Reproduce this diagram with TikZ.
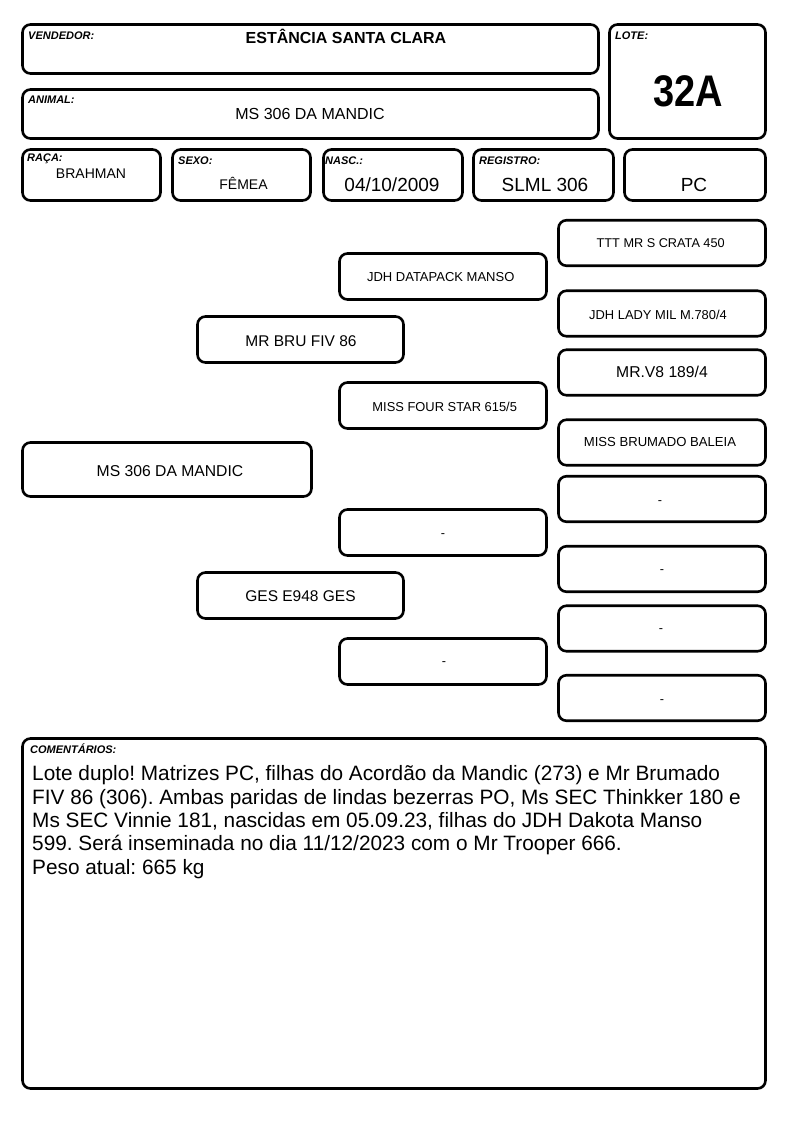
\documentclass[tikz,border=0pt]{standalone}
\usepackage{fontspec}
\setmainfont{Liberation Sans}
\frenchspacing
\newcommand\myfs[1]{\fontsize{#1bp}{#1bp}\selectfont}
\begin{document}
\begin{tikzpicture}[x=1bp,y=-1bp,
  box/.style={draw, line width=2.6bp, rounded corners=8bp, inner sep=0pt, outer sep=0pt},
  lbl/.style={font=\myfs{11}\bfseries\itshape, anchor=base west, inner sep=0pt},
  val/.style={anchor=base, inner sep=0pt},
  cline/.style={anchor=base west, inner sep=0pt, font=\myfs{20.8}},
  gfour/.style={box, minimum width=207bp, minimum height=45.5bp},
  gthree/.style={box, minimum width=207bp, minimum height=46bp},
  gtwo/.style={box, minimum width=206bp, minimum height=46bp},
  top/.style={box, minimum width=138bp, minimum height=51bp}]
\useasboundingbox (0,0) rectangle (794,1123);
% header boxes
\node[box, minimum width=576bp, minimum height=49bp] (vend) at (310.5,49) {};
\node[box, minimum width=576bp, minimum height=49bp] (anim) at (310.5,114) {};
\node[box, minimum width=156bp, minimum height=114bp] (lote) at (687.5,81.5) {};
\node[top] (raca) at (91.5,175) {};
\node[top] (sexo) at (241.5,175) {};
\node[top, minimum width=139bp] (nasc) at (393,175) {};
\node[top, minimum width=140bp] (regi) at (543.5,175) {};
\node[top, minimum width=141bp] (pc) at (695,175) {};
% header labels
\node[lbl] (lvend) at (28,39) {VENDEDOR:};
\node[lbl] (lanim) at (28,103) {ANIMAL:};
\node[lbl] (llote) at (615,39) {LOTE:};
\node[lbl] (lraca) at (27,161.5) {RAÇA:};
\node[lbl] (lsexo) at (178,164.5) {SEXO:};
\node[lbl] (lnasc) at (325,164.5) {NASC.:};
\node[lbl] (lregi) at (479,164.5) {REGISTRO:};
% header values
\node[val, font=\myfs{16}\bfseries] (tvend) at (346,43.3) {ESTÂNCIA SANTA CLARA};
\node[val, font=\myfs{16}] (tanim) at (310,119) {MS 306 DA MANDIC};
\node[val, font=\myfs{38}\bfseries] (tlote) at (688,106.7) {\scalebox{1}[1.165]{32A}};
\node[val, font=\myfs{14}] (traca) at (91,178.3) {BRAHMAN};
\node[val, font=\myfs{14}] (tsexo) at (243.5,189) {FÊMEA};
\node[val, font=\myfs{19}] (tnasc) at (392,191.7) {04/10/2009};
\node[val, font=\myfs{19}] (tregi) at (545,191.7) {SLML 306};
\node[val, font=\myfs{19}] (tpc) at (694,191.7) {PC};
% pedigree boxes
\node[box, minimum width=289bp, minimum height=54bp] (g1) at (167,469.5) {};
\node[gtwo] (g2a) at (300.5,339.5) {};
\node[gtwo] (g2b) at (300.5,595.5) {};
\node[gthree] (g3a) at (443,276.5) {};
\node[gthree] (g3b) at (443,405.5) {};
\node[gthree] (g3c) at (443,532.5) {};
\node[gthree] (g3d) at (443,661.5) {};
\node[gfour] (g4a) at (662,243) {};
\node[gfour] (g4b) at (662,313.5) {};
\node[gfour] (g4c) at (662,372.5) {};
\node[gfour] (g4d) at (662,442.5) {};
\node[gfour] (g4e) at (662,499) {};
\node[gfour] (g4f) at (662,569) {};
\node[gfour] (g4g) at (662,628.5) {};
\node[gfour] (g4h) at (662,698) {};
% pedigree texts
\node[val, font=\myfs{15.7}] (t1) at (170,476.7) {MS 306 DA MANDIC};
\node[val, font=\myfs{15.5}] (t2a) at (301,346.7) {MR BRU FIV 86};
\node[val, font=\myfs{15.5}] (t2b) at (300.5,601.7) {GES E948 GES};
\node[val, font=\myfs{13}] (t3a) at (440.7,281.7) {JDH DATAPACK MANSO};
\node[val, font=\myfs{12.9}] (t3b) at (444.7,411) {MISS FOUR STAR 615/5};
\node[val, font=\myfs{12.7}] (t3c) at (443,537.4) {-};
\node[val, font=\myfs{12.7}] (t3d) at (444,665.4) {-};
\node[val, font=\myfs{12.7}] (t4a) at (660.7,247.7) {TTT MR S CRATA 450};
\node[val, font=\myfs{12.9}] (t4b) at (658,319) {JDH LADY MIL M.780/4};
\node[val, font=\myfs{15.7}] (t4c) at (662,377.3) {MR.V8 189/4};
\node[val, font=\myfs{13.1}] (t4d) at (660,446.7) {MISS BRUMADO BALEIA};
\node[val, font=\myfs{12.7}] (t4e) at (660,504.4) {-};
\node[val, font=\myfs{12.7}] (t4f) at (662,573.4) {-};
\node[val, font=\myfs{12.7}] (t4g) at (661,632.4) {-};
\node[val, font=\myfs{12.7}] (t4h) at (662,703.4) {-};
% comments
\node[box, minimum width=743bp, minimum height=350bp] (com) at (394,913.5) {};
\node[lbl] (lcom) at (30,753) {COMENTÁRIOS:};
\node[cline] (c1) at (32,780.7) {Lote duplo! Matrizes PC, filhas do Acordão da Mandic (273) e Mr Brumado};
\node[cline] (c2) at (32,804) {FIV 86 (306). Ambas paridas de lindas bezerras PO, Ms SEC Thinkker 180 e};
\node[cline] (c3) at (32,827.3) {Ms SEC Vinnie 181, nascidas em 05.09.23, filhas do JDH Dakota Manso};
\node[cline] (c4) at (32,850.7) {599. Será inseminada no dia 11/12/2023 com o Mr Trooper 666.};
\node[cline] (c5) at (32,874) {Peso atual: 665 kg};
\end{tikzpicture}
\end{document}
